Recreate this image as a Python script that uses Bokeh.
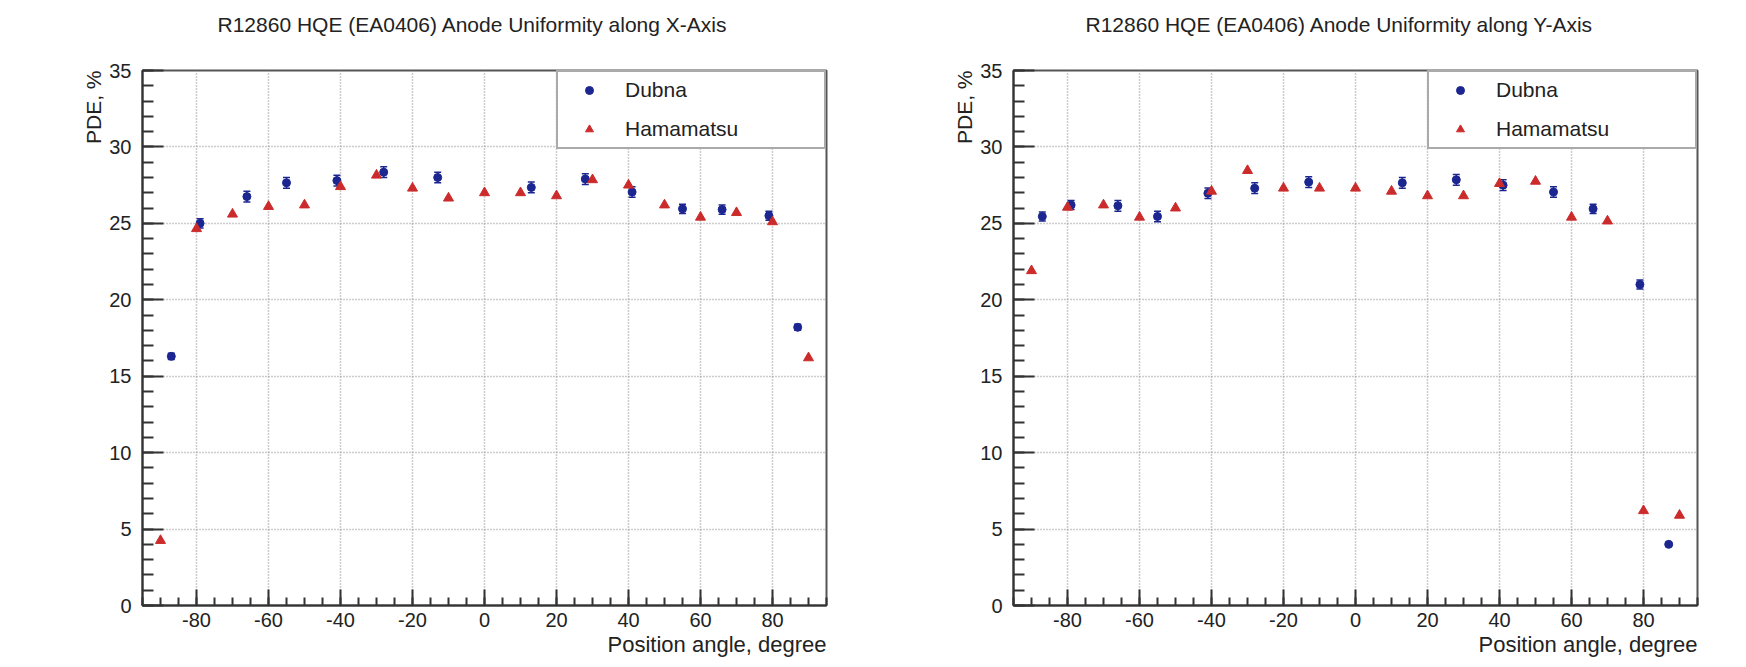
from bokeh.plotting import figure
from bokeh.models import (Range1d, FixedTicker, Whisker, ColumnDataSource, TeeHead,
                          Legend, LegendItem, Title)
from bokeh.layouts import row
from bokeh.embed import file_html
from bokeh.resources import INLINE

# ---------------- data ----------------
titles = ["R12860 HQE (EA0406) Anode Uniformity along X-Axis",
          "R12860 HQE (EA0406) Anode Uniformity along Y-Axis"]
x_label = "Position angle, degree"
y_label = "PDE, %"
series_names = ["Dubna", "Hamamatsu"]

angle_dubna = [-87, -79, -66, -55, -41, -28, -13, 13, 28, 41, 55, 66, 79, 87]
angle_hama = [-90, -80, -70, -60, -50, -40, -30, -20, -10, 0, 10, 20, 30, 40, 50, 60, 70, 80, 90]

pde_dubna_x = [16.3, 25.0, 26.75, 27.65, 27.8, 28.35, 28.0, 27.35, 27.9, 27.05, 25.95, 25.9, 25.5, 18.2]
err_dubna_x = [0.2, 0.3, 0.35, 0.35, 0.35, 0.35, 0.35, 0.35, 0.35, 0.35, 0.3, 0.3, 0.3, 0.2]
pde_hama_x = [4.25, 24.65, 25.6, 26.1, 26.2, 27.4, 28.15, 27.3, 26.65, 27.0,
              27.0, 26.8, 27.85, 27.5, 26.2, 25.4, 25.7, 25.1, 16.2]

pde_dubna_y = [25.45, 26.2, 26.15, 25.45, 26.97, 27.3, 27.7, 27.65, 27.85, 27.5, 27.05, 25.95, 21.0, 4.0]
err_dubna_y = [0.3, 0.3, 0.35, 0.35, 0.35, 0.35, 0.35, 0.35, 0.35, 0.35, 0.35, 0.3, 0.3, 0.1]
pde_hama_y = [21.9, 26.05, 26.2, 25.4, 26.0, 27.1, 28.45, 27.3, 27.3, 27.3,
              27.1, 26.8, 26.8, 27.6, 27.75, 25.4, 25.15, 6.2, 5.9]

x_major = [-80, -60, -40, -20, 0, 20, 40, 60, 80]
x_tick_labels = ["-80", "-60", "-40", "-20", "0", "20", "40", "60", "80"]
x_minor = list(range(-95, 96, 5))
y_major = [0, 5, 10, 15, 20, 25, 30, 35]
y_minor = list(range(0, 36, 1))

FONT = "Liberation Sans"
BLUE = "#1c2690"
RED = "#cc2b2b"
TXT = "#222222"


def make_fig(title, pde_d, err_d, pde_h, width, bl, br, toff):
    p = figure(width=width, height=665, x_range=Range1d(-95, 95), y_range=Range1d(0, 35),
               output_backend="svg", toolbar_location=None,
               min_border_left=bl, min_border_right=br, min_border_top=70, min_border_bottom=60)
    p.title = Title(text=title, align="left", offset=toff, standoff=0,
                    padding=dict(top=0, right=0, bottom=35, left=0),
                    text_font=FONT, text_font_size="21px", text_font_style="normal",
                    text_color=TXT)
    p.background_fill_color = "white"
    p.border_fill_color = "white"
    p.outline_line_color = "#555555"
    p.outline_line_width = 2

    xax = p.below[0]
    yax = p.left[0]

    # axes
    for ax in (xax, yax):
        ax.major_tick_out = 0
        ax.minor_tick_out = 0
        ax.axis_line_color = "#333333"
        ax.axis_line_width = 2
        ax.major_tick_line_color = "#333333"
        ax.major_tick_line_width = 2
        ax.minor_tick_line_color = "#333333"
        ax.minor_tick_line_width = 2
        ax.major_label_text_font = FONT
        ax.major_label_text_font_size = "20px"
        ax.major_label_text_color = TXT
    xax.ticker = FixedTicker(ticks=x_major, minor_ticks=x_minor)
    xax.major_label_overrides = {t: s for t, s in zip(x_major, x_tick_labels)}
    yax.ticker = FixedTicker(ticks=y_major, minor_ticks=y_minor)
    xax.major_tick_in = 16
    xax.minor_tick_in = 8
    yax.major_tick_in = 21
    yax.minor_tick_in = 11
    xax.major_label_standoff = 7
    yax.major_label_standoff = 11

    p.add_layout(Title(text=x_label, align="right", standoff=0, text_font=FONT,
                       text_font_size="22px", text_font_style="normal", text_color=TXT), "below")
    p.add_layout(Title(text=y_label, align="right", standoff=4, text_font=FONT,
                       text_font_size="21px", text_font_style="normal", text_color=TXT), "left")

    # grid
    p.xgrid.ticker = FixedTicker(ticks=x_major)
    p.ygrid.ticker = FixedTicker(ticks=y_major)
    for g in (p.xgrid[0], p.ygrid[0]):
        g.grid_line_color = "#9a9a9a"
        g.grid_line_dash = "1 2"
        g.grid_line_width = 1.5

    # data
    src_d = ColumnDataSource(dict(x=angle_dubna, y=pde_d,
                                  lo=[v - e for v, e in zip(pde_d, err_d)],
                                  hi=[v + e for v, e in zip(pde_d, err_d)]))
    src_h = ColumnDataSource(dict(x=angle_hama, y=pde_h))
    wh = Whisker(source=src_d, base="x", lower="lo", upper="hi", dimension="height",
                 line_color=BLUE, line_width=1.5,
                 upper_head=TeeHead(size=7, line_color=BLUE, line_width=1.5),
                 lower_head=TeeHead(size=7, line_color=BLUE, line_width=1.5))
    p.add_layout(wh)
    rd = p.scatter("x", "y", source=src_d, marker="circle", size=8,
                   fill_color=BLUE, line_color=BLUE)
    rh = p.scatter("x", "y", source=src_h, marker="triangle", size=10,
                   fill_color=RED, line_color=RED)

    leg = Legend(items=[LegendItem(label=series_names[0], renderers=[rd]),
                        LegendItem(label=series_names[1], renderers=[rh])],
                 location="top_right", margin=0, padding=0, spacing=3,
                 glyph_width=62, glyph_height=20, label_height=36, label_width=199,
                 label_standoff=5, label_text_font=FONT, label_text_font_size="21px",
                 label_text_color=TXT, border_line_color="#555555", border_line_width=2,
                 background_fill_color="white", background_fill_alpha=1.0)
    p.add_layout(leg)
    return p


p1 = make_fig(titles[0], pde_dubna_x, err_dubna_x, pde_hama_x, 878, 142, 52, 75)
p2 = make_fig(titles[1], pde_dubna_y, err_dubna_y, pde_hama_y, 866, 135, 47, 72)

layout = row(p1, p2)
open("out.html", "w").write(file_html(layout, INLINE))
